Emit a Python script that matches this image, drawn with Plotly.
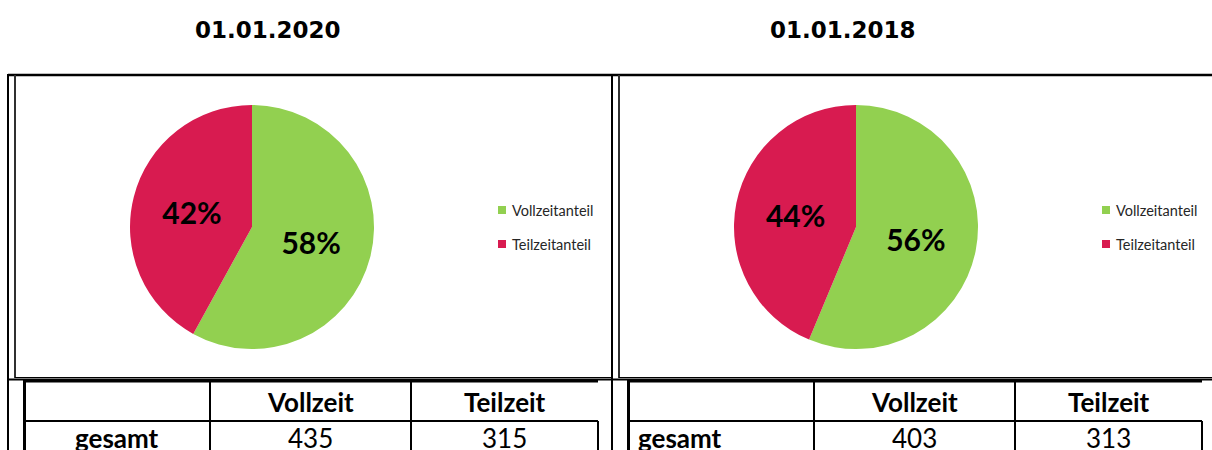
import plotly.graph_objects as go

# ---- data -------------------------------------------------------------
titles = ["01.01.2020", "01.01.2018"]
categories = ["Vollzeitanteil", "Teilzeitanteil"]
vollzeit = [435, 403]
teilzeit = [315, 313]
table_columns = ["Vollzeit", "Teilzeit"]
row_label = "gesamt"
slice_colors = ["#92D050", "#D81B50"]

# ---- page geometry (pixels, origin top-left) ---------------------------
W, H = 1212, 450
PANEL_SHIFT = 604          # horizontal distance between the two panels
TITLE_X = [268, 843]
PIE_CX, PIE_CY, PIE_R = 252, 227, 122


def px(x):
    return x / W


def py(y):
    return 1 - y / H


fig = go.Figure()
shapes = []
annotations = []


def line(x0, y0, x1, y1, width=2, color="black"):
    shapes.append(dict(type="line", xref="paper", yref="paper",
                       x0=px(x0), y0=py(y0), x1=px(x1), y1=py(y1),
                       line=dict(color=color, width=width)))


def text(x, y, s, size, family="Lato", weight="normal", xanchor="center",
         color="black"):
    annotations.append(dict(xref="paper", yref="paper", x=px(x), y=py(y),
                            text=s, showarrow=False, xanchor=xanchor,
                            yanchor="middle",
                            font=dict(family=family, size=size, color=color,
                                      weight=weight)))


# frame lines shared by both panels
line(8, 75, W, 75, width=2.5)
line(8, 379.5, W, 379.5, width=2)

for i, title in enumerate(titles):
    o = i * PANEL_SHIFT
    values = [vollzeit[i], teilzeit[i]]

    # pie chart
    fig.add_trace(go.Pie(
        labels=categories,
        values=values,
        sort=False,
        direction="clockwise",
        rotation=0,
        marker=dict(colors=slice_colors, line=dict(width=0)),
        texttemplate="%{percent:.0%}",
        textposition="inside",
        insidetextorientation="horizontal",
        textfont=dict(family="Lato", size=30, color="black", weight="bold"),
        domain=dict(x=[px(PIE_CX + o - PIE_R), px(PIE_CX + o + PIE_R)],
                    y=[py(PIE_CY + PIE_R), py(PIE_CY - PIE_R)]),
        showlegend=False,
        hoverinfo="label+value+percent",
    ))

    # panel title
    text(TITLE_X[i], 30, title, 23, family="DejaVu Sans", weight="bold")

    # chart box
    line(8 + o, 74, 8 + o, H, width=2)
    line(15 + o, 75, 15 + o, 378, width=2, color="#303030")
    line(15 + o, 377.5, 611 + o if i == 0 else W, 377.5, width=1)

    # legend
    for k, (cat, col) in enumerate(zip(categories, slice_colors)):
        yc = 210 + k * 34
        shapes.append(dict(type="rect", xref="paper", yref="paper",
                           x0=px(498 + o), x1=px(506 + o),
                           y0=py(yc + 4), y1=py(yc - 4),
                           fillcolor=col, line=dict(width=0)))
        text(510 + o, yc, cat, 14.5, xanchor="left", color="#262626")

    # table grid
    line(24 + o, 381, 598 + o, 381, width=3)
    line(24.5 + o, 380, 24.5 + o, H, width=3)
    line(210 + o, 381, 210 + o, H, width=2)
    line(411 + o, 381, 411 + o, H, width=2)
    line(24 + o, 421, 598 + o, 421, width=2)
    line(598 + o, 421, 598 + o, H, width=2)

    # table text
    col_centers = [310.5 + o, 504.5 + o]
    for c, name in enumerate(table_columns):
        text(col_centers[c], 402, name, 26, weight="bold")
    if i == 0:
        text(117 + o, 438, row_label, 26, weight="bold")
    else:
        text(32 + o, 438, row_label, 26, weight="bold", xanchor="left")
    text(col_centers[0], 438, str(vollzeit[i]), 26)
    text(col_centers[1], 438, str(teilzeit[i]), 26)

fig.update_layout(
    width=W, height=H,
    margin=dict(l=0, r=0, t=0, b=0),
    paper_bgcolor="white",
    plot_bgcolor="white",
    shapes=shapes,
    annotations=annotations,
)

fig.write_html("out.html")
